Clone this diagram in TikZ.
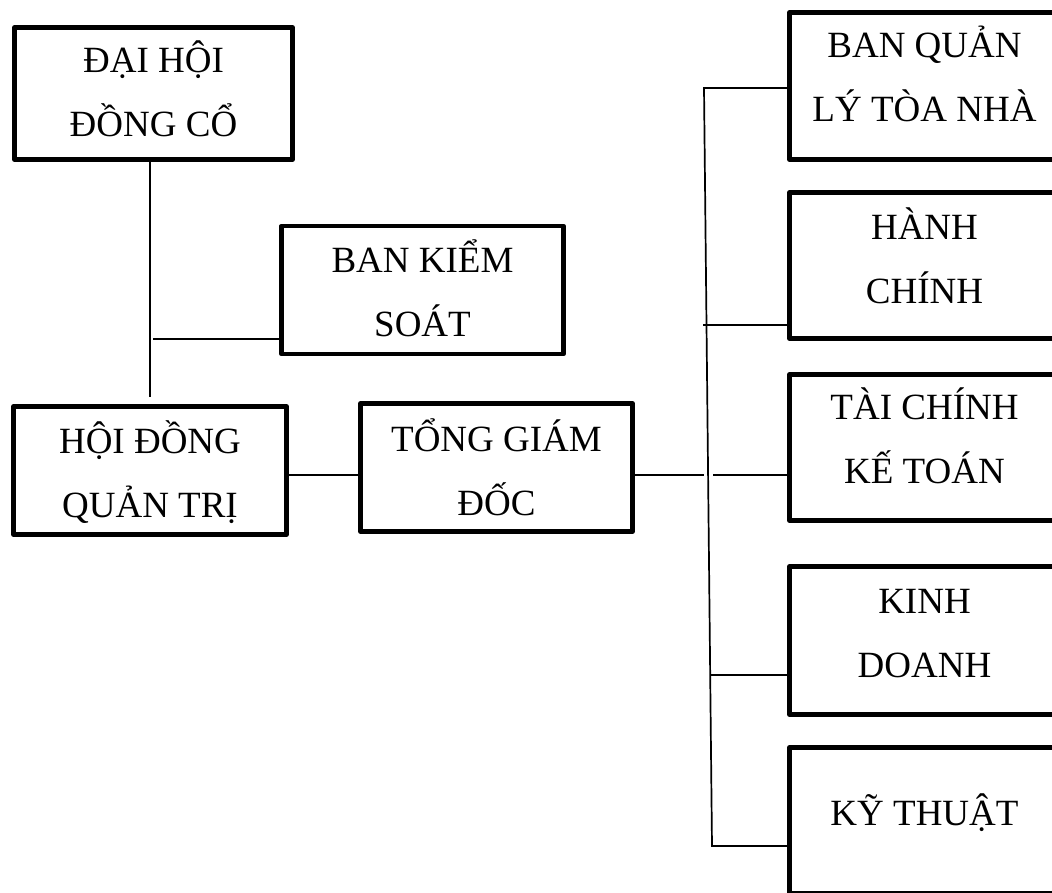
\documentclass[tikz,border=0pt]{standalone}
\usepackage{fontspec}
\setmainfont{Liberation Serif}
\newcommand{\boxtext}[2][0pt]{\raisebox{#1}[\height][\depth]{\begin{tabular}{@{}c@{}}#2\end{tabular}}}
\begin{document}
\begin{tikzpicture}[x=1pt,y=-1pt,
  orgbox/.style={draw=black, line width=4.8pt, line join=round, fill=white, inner sep=0pt,
    font=\fontsize{37}{64}\selectfont},
  conn/.style={draw=black, line width=1.7pt}]
\useasboundingbox (0,0) rectangle (1052,893);
\clip (0,0) rectangle (1052,893);

% left part
\node[orgbox, minimum width=278pt, minimum height=132pt] (dh) at (153.5,93.5)
  {\boxtext[2pt]{ĐẠI HỘI\\ĐỒNG CỔ}};
\node[orgbox, minimum width=282pt, minimum height=123pt] (bks) at (422.5,290)
  {\boxtext[-2pt]{BAN KIỂM\\SOÁT}};
\node[orgbox, minimum width=273pt, minimum height=122pt] (hdqt) at (150,470.5)
  {\boxtext[-2pt]{HỘI ĐỒNG\\QUẢN TRỊ}};
\node[orgbox, minimum width=272pt, minimum height=124pt] (tgd) at (496.5,467.5)
  {\boxtext[-3pt]{TỔNG GIÁM\\ĐỐC}};

% right column
\node[orgbox, minimum width=270pt, minimum height=147pt] (bql) at (924.5,86)
  {\boxtext[9pt]{BAN QUẢN\\LÝ TÒA NHÀ}};
\node[orgbox, minimum width=270pt, minimum height=146pt] (hc) at (924.5,265.5)
  {\boxtext[7pt]{HÀNH\\CHÍNH}};
\node[orgbox, minimum width=270pt, minimum height=146pt] (tc) at (924.5,447.5)
  {\boxtext[9pt]{TÀI CHÍNH\\KẾ TOÁN}};
\node[orgbox, minimum width=270pt, minimum height=148pt] (kd) at (924.5,640.5)
  {\boxtext[8pt]{KINH\\DOANH}};
\node[orgbox, minimum width=270pt, minimum height=146pt] (kt) at (924.5,820.5)
  {\boxtext[8pt]{KỸ THUẬT}};

% helper coordinates
\coordinate (v1) at (150,397);
\coordinate (k1) at (153,339);
\coordinate (h1) at (0,475);
\coordinate (gA) at (704,475);
\coordinate (gB) at (713,475);
\coordinate (b0) at (704,88);
\coordinate (b1) at (712,846);
\coordinate (c2) at (703,325);
\coordinate (c4) at (711,675);

% connectors
\draw[conn] (v1 |- dh.south) -- (v1);
\draw[conn] (k1) -- (k1 -| bks.west);
\draw[conn] (hdqt.east |- h1) -- (tgd.west |- h1);
\draw[conn] (tgd.east |- h1) -- (gA);
\draw[conn] (gB) -- (tc.west |- h1);
\draw[conn] (bql.west |- b0) -- (b0) -- (b1) -- (b1 -| kt.west);
\draw[conn] (c2) -- (c2 -| hc.west);
\draw[conn] (c4) -- (c4 -| kd.west);
\end{tikzpicture}
\end{document}
